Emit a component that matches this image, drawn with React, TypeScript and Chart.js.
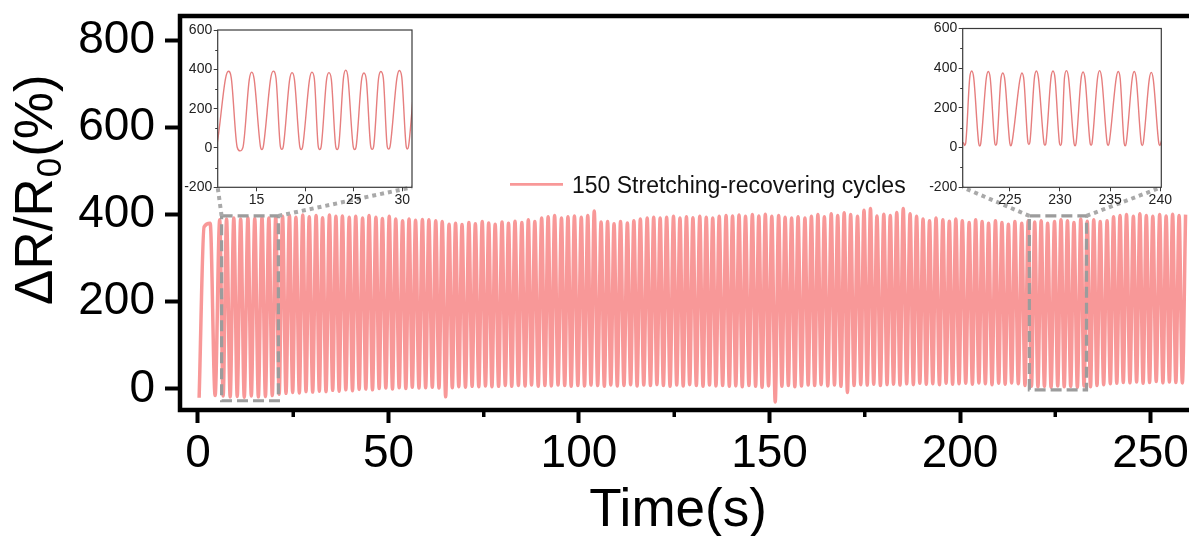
import React, { useEffect, useRef } from "react";
import { Chart, registerables } from "chart.js";

Chart.register(...registerables);

const FONT = "'Liberation Sans', Arial, Helvetica, sans-serif";

// ---------- main series: peaks and valleys of the stretching-recovering cycles ----------
const peakTimes = [
  1.6, 3.2, 5.7, 7.5, 9.4, 11.2, 13.1, 14.9, 16.8, 18.6, 20.4,
  22.2, 24.0, 25.7, 27.5, 29.2, 31.0, 32.7, 34.5, 36.2, 37.9, 39.7,
  41.4, 43.2, 44.9, 46.7, 48.4, 50.2, 51.9, 53.7, 55.4, 57.1, 58.9,
  60.6, 62.4, 64.1, 65.9, 67.6, 69.3, 71.1, 72.8, 74.6, 76.3, 78.0, 79.8,
  81.5, 83.2, 85.0, 86.7, 88.4, 90.2, 91.9, 93.6, 95.4, 97.1, 98.8,
  100.6, 102.3, 104.0, 105.8, 107.5, 109.2, 110.9, 112.7, 114.4, 116.1, 117.9, 119.6,
  121.3, 123.0, 124.8, 126.5, 128.2, 129.9, 131.7, 133.4, 135.1, 136.8, 138.6,
  140.3, 142.0, 143.7, 145.5, 147.2, 148.9, 150.6, 152.4, 154.1, 155.8, 157.5, 159.3,
  161.0, 162.7, 164.4, 166.2, 167.9, 169.6, 171.3, 173.1, 174.8, 176.5, 178.2, 180.0,
  181.7, 183.4, 185.1, 186.9, 188.6, 190.3, 192.0, 193.7, 195.5, 197.2, 198.9,
  200.6, 202.4, 204.1, 205.8, 207.5, 209.3, 211.0, 212.7, 214.4, 216.2, 217.9, 219.6,
  221.3, 223.0, 224.8, 226.5, 228.2, 229.9, 231.7, 233.4, 235.1, 236.8, 238.6,
  240.3, 242.0, 243.7, 245.5, 247.2, 248.9, 250.6, 252.4, 254.1, 255.8, 257.5, 259.2,
];
const peakValues = [
  372, 380, 388, 390, 392, 390, 393, 391, 394, 392, 395,
  396, 398, 394, 399, 395, 398, 393, 399, 396, 397, 394,
  396, 392, 398, 394, 391, 396, 390, 386, 390, 387, 389,
  388, 386, 384, 378, 380, 377, 382, 379, 384, 381, 378, 383,
  380, 385, 382, 388, 384, 392, 395, 398, 392, 395, 397,
  394, 398, 408, 383, 384, 379, 384, 381, 386, 390, 392, 394,
  392, 394, 396, 392, 395, 393, 396, 394, 392, 396, 398,
  397, 399, 396, 400, 397, 401, 396, 398, 394, 392, 395, 392,
  396, 400, 395, 402, 398, 404, 400, 396, 410, 414, 397, 401,
  398, 405, 414, 402, 396, 390, 386, 392, 388, 385, 390,
  386, 382, 388, 384, 380, 386, 382, 378, 384, 380, 386, 383,
  386, 380, 384, 388, 386, 382, 390, 385, 388, 384, 386,
  395, 398, 400, 396, 402, 398, 396, 400, 397, 401, 398, 400,
];
const valleyTimes = [
  0.3, 4.5,
  6.6, 8.45, 10.3, 12.15, 14.0, 15.85, 17.7, 19.5, 21.3,
  23.1, 24.85, 26.6, 28.35, 30.1, 31.85, 33.6, 35.35, 37.05, 38.8, 40.55,
  42.3, 44.05, 45.8, 47.55, 49.3, 51.05, 52.8, 54.55, 56.25, 58.0, 59.75,
  61.5, 63.25, 65.0, 66.75, 68.45, 70.2, 71.95, 73.7, 75.45, 77.15, 78.9, 80.65,
  82.35, 84.1, 85.85, 87.55, 89.3, 91.05, 92.75, 94.5, 96.25, 97.95, 99.7,
  101.45, 103.15, 104.9, 106.65, 108.35, 110.05, 111.8, 113.55, 115.25, 117.0, 118.75, 120.45,
  122.15, 123.9, 125.65, 127.35, 129.05, 130.8, 132.55, 134.25, 135.95, 137.7, 139.45,
  141.15, 142.85, 144.6, 146.35, 148.05, 149.75, 151.5, 153.25, 154.95, 156.65, 158.4, 160.15,
  161.85, 163.55, 165.3, 167.05, 168.75, 170.45, 172.2, 173.95, 175.65, 177.35, 179.1, 180.85,
  182.55, 184.25, 186.0, 187.75, 189.45, 191.15, 192.85, 194.6, 196.35, 198.05, 199.75,
  201.5, 203.25, 204.95, 206.65, 208.4, 210.15, 211.85, 213.55, 215.3, 217.05, 218.75, 220.45,
  222.15, 223.9, 225.65, 227.35, 229.05, 230.8, 232.55, 234.25, 235.95, 237.7, 239.45,
  241.15, 242.85, 244.6, 246.35, 248.05, 249.75, 251.5, 253.25, 254.95, 256.65, 258.35,
];
const valleyValues = [
  -20, -15,
  -16, -18, -17, -19, -16, -18, -17, -15, -12,
  -10, -8, -9, -6, -7, -5, -6, -3, -5, -2, -4,
  -1, 0, -2, 1, 2, 0, 3, 1, 4, 2, 3,
  4, 2, -18, 3, 5, 4, 6, 5, 7, 5, 6, 8,
  6, 8, 7, 9, 6, 8, 7, 9, 8, 6, 8,
  7, 9, 8, 6, 9, 7, 8, 10, 7, 9, 8, 10,
  8, 6, 9, 7, 10, 8, 6, 9, 7, 8, 6,
  7, 5, 8, 6, 4, 7, -30, 6, 8, 5, 7, 9,
  8, 10, 7, 9, 6, -8, 8, 10, 9, 11, 8, 10,
  11, 9, 12, 10, 13, 11, 12, 10, 13, 11, 12,
  13, 11, 14, 12, 10, 13, 11, 14, 12, 8, 6, 5,
  6, 4, 7, 5, 6, 4, 7, 5, 8, 10, 12,
  13, 15, 14, 16, 13, 15, 17, 14, 16, 15, 14,
];

// ---------- inset series ----------
const insetATimes = [
  10.6, 10.75, 10.9,
  11.8, 12.1, 12.4, 13.0, 13.3, 13.6,
  14.25, 14.5, 14.75, 15.4, 15.55, 15.7,
  16.45, 16.72, 17.0, 17.45, 17.6, 17.75,
  18.4, 18.65, 18.9, 19.45, 19.6, 19.75,
  20.45, 20.7, 20.95, 21.35, 21.5, 21.65,
  22.2, 22.45, 22.7, 23.15, 23.3, 23.45,
  23.95, 24.18, 24.4, 24.95, 25.1, 25.25,
  25.8, 26.05, 26.3, 26.75, 26.9, 27.05,
  27.55, 27.8, 28.05, 28.45, 28.6, 28.75,
  29.45, 29.7, 29.95, 30.4, 30.52, 30.65,
  31.3, 31.55, 31.8,
];
const insetAValues = [
  10, -5, 10,
  352, 390, 355, 5, -15, 3,
  348, 386, 351, 7, -8, 8,
  353, 391, 356, 8, -7, 7,
  345, 383, 348, 7, -8, 8,
  348, 386, 351, 8, -8, 7,
  345, 383, 348, 7, -8, 8,
  358, 396, 361, 7, -8, 7,
  343, 381, 346, 8, -7, 7,
  351, 389, 354, 8, -6, 9,
  356, 394, 359, 9, -5, 10,
  350, 388, 353,
];
const insetBTimes = [
  220.0, 220.4, 220.5, 220.6,
  221.0, 221.2, 221.4, 221.9, 222.0, 222.1,
  222.65, 222.85, 223.05, 223.5, 223.6, 223.7,
  224.1, 224.3, 224.5, 225.0, 225.1, 225.2,
  226.0, 226.2, 226.4, 226.8, 226.9, 227.0,
  227.45, 227.65, 227.85, 228.4, 228.5, 228.6,
  229.1, 229.3, 229.5, 229.95, 230.05, 230.15,
  230.45, 230.65, 230.85, 231.4, 231.5, 231.6,
  232.1, 232.3, 232.5, 233.0, 233.1, 233.2,
  233.75, 233.95, 234.15, 234.7, 234.8, 234.9,
  235.6, 235.8, 236.0, 236.4, 236.5, 236.6,
  237.2, 237.4, 237.6, 238.1, 238.2, 238.3,
  238.9, 239.1, 239.3, 239.85, 239.95, 240.05,
  240.4,
];
const insetBValues = [
  30, 22, 10, 22,
  351, 386, 351, 20, 8, 20,
  348, 383, 348, 23, 11, 23,
  341, 376, 341, 21, 9, 21,
  341, 376, 341, 27, 15, 27,
  351, 386, 351, 23, 11, 23,
  351, 386, 351, 22, 10, 22,
  353, 388, 353, 21, 9, 21,
  346, 381, 346, 23, 11, 23,
  353, 388, 353, 22, 10, 22,
  348, 383, 348, 21, 9, 21,
  348, 383, 348, 22, 10, 22,
  344, 379, 344, 22, 10, 22,
  80,
];

// ---------- axes, ticks, annotations ----------
const mainXRange = [-4.72, 260.1];
const mainYRange = [-48.2, 855.5];
const mainXTickStep = 50;
const mainXMinorTicks = [25, 75, 125, 175, 225];
const mainYTickStep = 200;
const insetARange = [11, 31];
const insetBRange = [220.3, 240.1];
const insetATicks = [15, 20, 25, 30];
const insetBTicks = [225, 230, 235, 240];
const insetYRange = [-200, 600];
const insetYTickStep = 200;
const insetYMinorTicks = [-100, 100, 300, 500];
const boxATimes = [6.2, 21.1];
const boxAValues = [-27, 397];
const boxBTimes = [218.2, 233.2];
const boxBValues = [-2, 397];

const seriesLabel = "150 Stretching-recovering cycles";
const xTitle = "Time(s)";
const yTitleHead = "ΔR/R";
const yTitleSub = "0";
const yTitleTail = "(%)";

const MAIN_COLOR = "rgb(248,152,152)";
const INSET_COLOR = "rgb(230,126,126)";

// layout constants
const W = 1189;
const H = 536;
const INSET_A = { left: 175, top: 20, width: 245, height: 190, padTop: 10, padRight: 8, yWidth: 42.7, xHeight: 22.7 };
const INSET_B = { left: 925, top: 20, width: 264, height: 190, padTop: 8.5, padRight: 27.7, yWidth: 37.7, xHeight: 22.7 };

function zip(ts: number[], vs: number[]) {
  const n = Math.min(ts.length, vs.length);
  const out: { x: number; y: number }[] = [];
  for (let i = 0; i < n; i++) out.push({ x: ts[i], y: vs[i] });
  return out;
}

const mainPoints = [...zip(peakTimes, peakValues), ...zip(valleyTimes, valleyValues)].sort((a, b) => a.x - b.x);

const insetDecor = {
  id: "insetDecor",
  afterDraw(chart: any) {
    const { ctx, chartArea: a } = chart;
    const y = chart.scales.y;
    ctx.save();
    ctx.strokeStyle = "#3a3a3a";
    ctx.lineWidth = 1.2;
    ctx.strokeRect(a.left, a.top, a.right - a.left, a.bottom - a.top);
    ctx.lineWidth = 1;
    for (const v of insetYMinorTicks) {
      const py = Math.round(y.getPixelForValue(v)) + 0.5;
      ctx.beginPath();
      ctx.moveTo(a.left - 2.5, py);
      ctx.lineTo(a.left, py);
      ctx.stroke();
    }
    ctx.restore();
  },
};

function makeInset(canvas: HTMLCanvasElement, times: number[], values: number[], xRange: number[], xTicks: number[], L: any) {
  return new Chart(canvas, {
    type: "line",
    data: {
      datasets: [
        {
          data: zip(times, values),
          borderColor: INSET_COLOR,
          borderWidth: 1.4,
          pointRadius: 0,
          fill: false,
          cubicInterpolationMode: "monotone",
        },
      ],
    },
    options: {
      responsive: false,
      animation: false,
      devicePixelRatio: 1,
      events: [],
      layout: { padding: { top: L.padTop, right: L.padRight, left: 0, bottom: 0 } },
      plugins: { legend: { display: false }, tooltip: { enabled: false } },
      scales: {
        x: {
          type: "linear",
          min: xRange[0],
          max: xRange[1],
          afterBuildTicks: (s: any) => {
            s.ticks = xTicks.map((v) => ({ value: v }));
          },
          afterFit: (s: any) => {
            s.height = L.xHeight;
            s.paddingLeft = 0;
            s.paddingRight = 0;
          },
          ticks: {
            autoSkip: false,
            maxRotation: 0,
            font: { family: FONT, size: 14 },
            color: "#222",
            padding: 0,
          },
          grid: { drawOnChartArea: false, drawTicks: true, tickLength: 4, tickWidth: 1, tickColor: "#3a3a3a" },
          border: { display: false },
        },
        y: {
          type: "linear",
          min: insetYRange[0],
          max: insetYRange[1],
          afterFit: (s: any) => {
            s.width = L.yWidth;
            s.paddingTop = 0;
            s.paddingBottom = 0;
          },
          ticks: {
            stepSize: insetYTickStep,
            includeBounds: false,
            autoSkip: false,
            font: { family: FONT, size: 14 },
            color: "#222",
            padding: 1.5,
          },
          grid: { drawOnChartArea: false, drawTicks: true, tickLength: 4, tickWidth: 1, tickColor: "#3a3a3a" },
          border: { display: false },
        },
      },
    } as any,
    plugins: [insetDecor],
  });
}

function makeMainDecor(insets: { chart: any; pos: any }[]) {
  return {
    id: "mainDecor",
    afterDraw(chart: any) {
      const { ctx, chartArea: a } = chart;
      const x = chart.scales.x;
      const y = chart.scales.y;
      ctx.save();

      // minor x ticks
      ctx.strokeStyle = "#000";
      ctx.lineWidth = 3.5;
      for (const v of mainXMinorTicks) {
        const px = x.getPixelForValue(v);
        ctx.beginPath();
        ctx.moveTo(px, a.bottom);
        ctx.lineTo(px, a.bottom + 7);
        ctx.stroke();
      }

      // frame (left, top, bottom)
      ctx.lineWidth = 4.5;
      ctx.lineJoin = "miter";
      ctx.beginPath();
      ctx.moveTo(a.right + 10, a.top);
      ctx.lineTo(a.left, a.top);
      ctx.lineTo(a.left, a.bottom);
      ctx.lineTo(a.right + 10, a.bottom);
      ctx.stroke();

      // zoom boxes and connectors
      const boxes = [
        { t: boxATimes, v: boxAValues, inset: insets[0] },
        { t: boxBTimes, v: boxBValues, inset: insets[1] },
      ];
      for (const b of boxes) {
        const x0 = x.getPixelForValue(b.t[0]);
        const x1 = x.getPixelForValue(b.t[1]);
        const yTop = y.getPixelForValue(b.v[1]);
        const yBot = y.getPixelForValue(b.v[0]);
        ctx.strokeStyle = "#9c9c9c";
        ctx.lineWidth = 3.2;
        ctx.setLineDash([11, 5]);
        ctx.strokeRect(x0, yTop, x1 - x0, yBot - yTop);
        const ia = b.inset.chart.chartArea;
        const L = b.inset.pos.left + ia.left;
        const R = b.inset.pos.left + ia.right;
        const B = b.inset.pos.top + ia.bottom;
        ctx.strokeStyle = "#a9a9a9";
        ctx.lineWidth = 4;
        ctx.setLineDash([4, 4]);
        ctx.beginPath();
        ctx.moveTo(x0, yTop);
        ctx.lineTo(L, B);
        ctx.moveTo(x1, yTop);
        ctx.lineTo(R, B);
        ctx.stroke();
      }
      ctx.setLineDash([]);

      // legend
      const ds = chart.data.datasets[0];
      ctx.strokeStyle = ds.borderColor;
      ctx.lineWidth = 2.8;
      ctx.beginPath();
      ctx.moveTo(510, 184.3);
      ctx.lineTo(563, 184.3);
      ctx.stroke();
      ctx.fillStyle = "#111";
      ctx.font = `23px ${FONT}`;
      ctx.textAlign = "left";
      ctx.textBaseline = "alphabetic";
      ctx.fillText(ds.label, 572, 192.5);

      // x title
      ctx.fillStyle = "#000";
      ctx.font = `53px ${FONT}`;
      ctx.textAlign = "center";
      ctx.fillText(xTitle, 678, 526);

      // y title (rotated, with subscript)
      ctx.save();
      ctx.translate(52, 305);
      ctx.rotate(-Math.PI / 2);
      ctx.textAlign = "left";
      ctx.font = `53px ${FONT}`;
      ctx.fillText(yTitleHead, 0, 0);
      let w = ctx.measureText(yTitleHead).width;
      ctx.font = `35px ${FONT}`;
      ctx.fillText(yTitleSub, w + 1, 9);
      w += ctx.measureText(yTitleSub).width + 2;
      ctx.font = `53px ${FONT}`;
      ctx.fillText(yTitleTail, w, 0);
      ctx.restore();

      ctx.restore();
    },
  };
}

export default function App() {
  const mainRef = useRef<HTMLCanvasElement>(null);
  const aRef = useRef<HTMLCanvasElement>(null);
  const bRef = useRef<HTMLCanvasElement>(null);

  useEffect(() => {
    const insetA = makeInset(aRef.current!, insetATimes, insetAValues, insetARange, insetATicks, INSET_A);
    const insetB = makeInset(bRef.current!, insetBTimes, insetBValues, insetBRange, insetBTicks, INSET_B);
    const main = new Chart(mainRef.current!, {
      type: "line",
      data: {
        datasets: [
          {
            label: seriesLabel,
            data: mainPoints,
            borderColor: MAIN_COLOR,
            borderWidth: 3.5,
            pointRadius: 0,
            fill: false,
            cubicInterpolationMode: "monotone",
          },
        ],
      },
      options: {
        responsive: false,
        animation: false,
        devicePixelRatio: 1,
        events: [],
        layout: { padding: { top: 16, right: 0, left: 0, bottom: 0 } },
        plugins: { legend: { display: false }, tooltip: { enabled: false } },
        scales: {
          x: {
            type: "linear",
            min: mainXRange[0],
            max: mainXRange[1],
            afterFit: (s: any) => {
              s.height = 126;
              s.paddingLeft = 0;
              s.paddingRight = 0;
            },
            ticks: {
              stepSize: mainXTickStep,
              includeBounds: false,
              autoSkip: false,
              maxRotation: 0,
              font: { family: FONT, size: 46 },
              color: "#000",
              padding: 4,
            },
            grid: { drawOnChartArea: false, drawTicks: true, tickLength: 13, tickWidth: 4, tickColor: "#000" },
            border: { display: false },
          },
          y: {
            type: "linear",
            min: mainYRange[0],
            max: mainYRange[1],
            afterFit: (s: any) => {
              s.width = 180;
              s.paddingTop = 0;
              s.paddingBottom = 0;
            },
            ticks: {
              stepSize: mainYTickStep,
              includeBounds: false,
              autoSkip: false,
              font: { family: FONT, size: 46 },
              color: "#000",
              padding: 10,
            },
            grid: { drawOnChartArea: false, drawTicks: true, tickLength: 15, tickWidth: 4, tickColor: "#000" },
            border: { display: false },
          },
        },
      } as any,
      plugins: [
        makeMainDecor([
          { chart: insetA, pos: INSET_A },
          { chart: insetB, pos: INSET_B },
        ]),
      ],
    });
    return () => {
      main.destroy();
      insetA.destroy();
      insetB.destroy();
    };
  }, []);

  const abs = (p: any) => ({ position: "absolute" as const, left: p.left, top: p.top, width: p.width, height: p.height });

  return (
    <div style={{ position: "fixed", left: 0, top: 0, width: W, height: H, background: "#fff", overflow: "hidden" }}>
      <canvas ref={mainRef} width={W} height={H} style={abs({ left: 0, top: 0, width: W, height: H })} />
      <canvas ref={aRef} width={INSET_A.width} height={INSET_A.height} style={abs(INSET_A)} />
      <canvas ref={bRef} width={INSET_B.width} height={INSET_B.height} style={abs(INSET_B)} />
    </div>
  );
}
